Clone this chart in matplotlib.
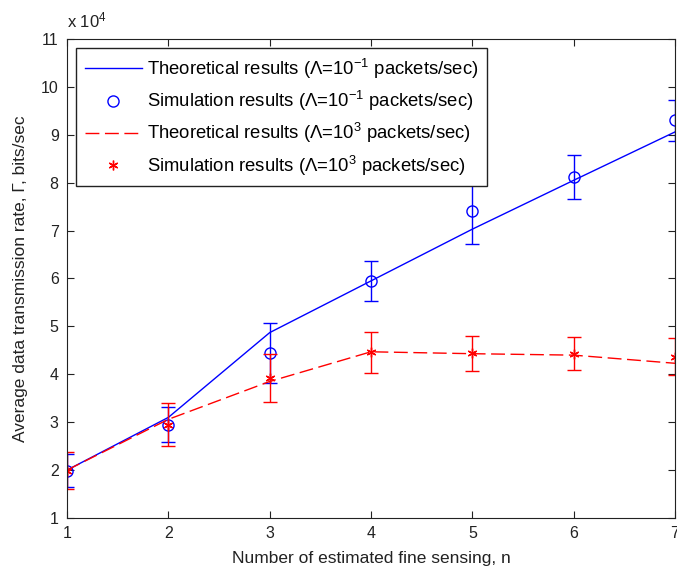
"""
Average data transmission rate versus the number of estimated fine sensing
"""

import numpy as np
import matplotlib.pyplot as plt

plt.rcParams['font.family'] = ['Liberation Sans', 'DejaVu Sans']
plt.rcParams['mathtext.fontset'] = 'custom'
plt.rcParams['mathtext.rm'] = 'Liberation Sans'
plt.rcParams['mathtext.it'] = 'Liberation Sans:italic'

n = [1, 2, 3, 4, 5, 6, 7]

# rates in bits/sec
theory_low = [20000, 31000, 48700, 59500, 70300, 80500, 90600]
sim_low = [19900, 29500, 44500, 59400, 74000, 81200, 93000]
err_low = [3500, 3700, 6300, 4200, 6800, 4600, 4300]

theory_high = [20000, 30600, 38500, 44700, 44300, 44000, 42300]
sim_high = [19900, 29500, 39300, 44600, 44400, 44300, 43700]
err_high = [3800, 4500, 5000, 4300, 3700, 3400, 3900]

scale = 1e4
ink = '#222222'

def plotGraph():
    fig = plt.figure(figsize=(6.77, 5.74), dpi=100)
    ax = fig.add_axes([67/677, 1 - 518/574, 608/677, 479/574])

    x = np.array(n)
    h1, = ax.plot(x, np.array(theory_low)/scale, color='#0000ff', lw=1.0,
                  label=r'Theoretical results ($\Lambda$=10$^{-1}$ packets/sec)')
    ax.errorbar(x, np.array(sim_low)/scale, yerr=np.array(err_low)/scale,
                fmt='none', ecolor='#0000ff', elinewidth=1.0,
                capsize=5, capthick=1.0)
    h2, = ax.plot(x, np.array(sim_low)/scale, ls='none', marker='o',
                  color='#0000ff', mfc='none', ms=8, mew=1.0,
                  label=r'Simulation results ($\Lambda$=10$^{-1}$ packets/sec)')
    h3, = ax.plot(x, np.array(theory_high)/scale, color='#ff0000', lw=1.0,
                  dashes=(10, 4),
                  label=r'Theoretical results ($\Lambda$=10$^{3}$ packets/sec)')
    ax.errorbar(x, np.array(sim_high)/scale, yerr=np.array(err_high)/scale,
                fmt='none', ecolor='#ff0000', elinewidth=1.0,
                capsize=5, capthick=1.0)
    h4, = ax.plot(x, np.array(sim_high)/scale, ls='none', marker=(6, 2, 0),
                  color='#ff0000', ms=7, mew=1.0,
                  label=r'Simulation results ($\Lambda$=10$^{3}$ packets/sec)')

    ax.set_xlim(1, 7)
    ax.set_ylim(1, 11)
    ax.set_xticks(n)
    ax.set_yticks(range(1, 12))
    ax.tick_params(direction='in', top=True, right=True, labelsize=11.5,
                   length=5, colors=ink, pad=6)
    for s in ax.spines.values():
        s.set_color(ink)

    ax.text(0.0, 1.017, r'x 10$^{4}$', transform=ax.transAxes,
            fontsize=12, color=ink, ha='left', va='bottom')

    ax.set_xlabel('Number of estimated fine sensing, n', fontsize=12.5,
                  color=ink, labelpad=7)
    ax.set_ylabel('Average data transmission rate, Γ, bits/sec', fontsize=12.5,
                  color=ink, labelpad=9)

    leg = ax.legend(handles=[h1, h2, h3, h4], loc='upper left', fontsize=13.3,
                    handlelength=3.1, handletextpad=0.3, fancybox=False,
                    edgecolor=ink, framealpha=1, borderaxespad=0.5,
                    labelspacing=0.45, borderpad=0.45)
    leg.get_frame().set_linewidth(1.0)

    fig.savefig('out.png', dpi=100)

plotGraph()
